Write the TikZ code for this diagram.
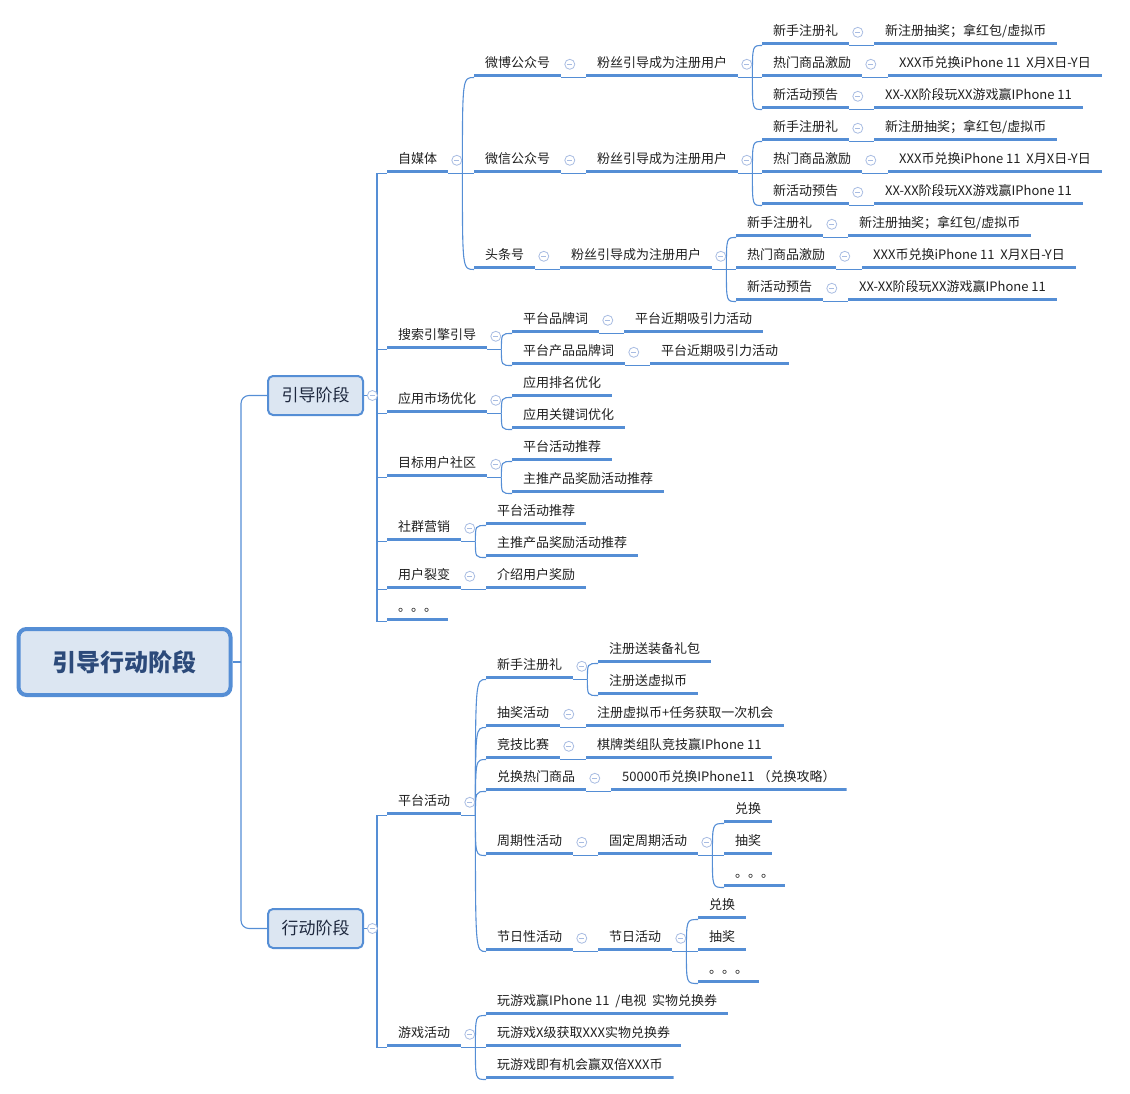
\documentclass[tikz,border=0pt]{standalone}
\usepackage{fontspec}
\setmainfont{Noto Sans CJK SC}
\usetikzlibrary{backgrounds}

\definecolor{mapblue}{RGB}{85,142,213}
\definecolor{mapfill}{RGB}{220,230,242}
\definecolor{mapfold}{RGB}{168,188,226}
\definecolor{maproot}{RGB}{44,74,122}
\definecolor{mapstage}{RGB}{30,40,62}

\tikzset{
  link/.style={draw=mapblue, line width=1.1pt},
  uline/.style={mapblue, line width=3pt},
  topic/.style={anchor=south west, yshift=-1.5pt, inner xsep=11pt, inner ysep=0pt,
    minimum height=26pt, text height=10pt, text depth=3pt,
    font=\fontsize{13}{15}\selectfont, text=black!88,
    path picture={\draw[uline] ([yshift=1.5pt]path picture bounding box.south west)
      -- ([yshift=1.5pt]path picture bounding box.south east);}},
  foldmark/.style={circle, draw=mapfold, fill=white, line width=0.8pt,
    minimum size=10pt, inner sep=0pt, label distance=3pt,
    path picture={\draw[mapfold, line width=0.8pt]
      ([xshift=-2.6pt]path picture bounding box.center)
      -- ([xshift=2.6pt]path picture bounding box.center);}},
  withfold/.style={label={[foldmark]right:{}}},
  stagebox/.style={draw=mapblue, line width=2pt, fill=mapfill, rounded corners=5pt,
    minimum width=95pt, minimum height=39pt, inner sep=0pt,
    font=\fontsize{17}{20}\selectfont, text=mapstage},
  rootbox/.style={draw=mapblue, line width=4pt, fill=mapfill, rounded corners=8pt,
    minimum width=212pt, minimum height=66pt, inner sep=0pt,
    font=\fontsize{24}{28}\selectfont\bfseries, text=maproot}
}

% parent -> children, XMind-like fork
\newcommand\forkto[2]{%
  \draw[link] (#1.south east) -- ++(14,0) coordinate (j-#1);
  \foreach \c in {#2}{\draw[link] (j-#1) .. controls (j-#1 |- \c.south west) .. (\c.south west);}}

\begin{document}
\begin{tikzpicture}[x=1pt, y=-1pt]
  \useasboundingbox (0,0) rectangle (1130,1094);

  % root and stages
  \node[rootbox] (root) at (124.5,662) {引导行动阶段};
  \node[stagebox, withfold] (yd) at (315.5,395.5) {引导阶段};
  \node[stagebox, withfold] (xd) at (315.5,928.5) {行动阶段};
  \coordinate (rj) at (241,662);
  \coordinate (ydj) at (377,395.5);
  \coordinate (xdj) at (377,928.5);

  % 引导阶段
  \node[topic, withfold] (zmt) at (387,172) {自媒体};
  \node[topic, withfold] (ssy) at (387,348) {搜索引擎引导};
  \node[topic, withfold] (yys) at (387,412) {应用市场优化};
  \node[topic, withfold] (mbs) at (387,476) {目标用户社区};
  \node[topic, withfold] (sqy) at (387,540) {社群营销};
  \node[topic, withfold] (yhl) at (387,588) {用户裂变};
  \node[topic] (ydd) at (387,620) {。。。};

  \node[topic, withfold] (wb) at (474,76) {微博公众号};
  \node[topic, withfold] (wx) at (474,172) {微信公众号};
  \node[topic, withfold] (tt) at (474,268) {头条号};
  \foreach \p/\dx/\y in {wb/0/76, wx/0/172, tt/-26/268}{
    \node[topic, withfold] (\p f) at (586+\dx,\y) {粉丝引导成为注册用户};
    \node[topic, withfold] (\p1) at (762+\dx,\y-32) {新手注册礼};
    \node[topic, withfold] (\p2) at (762+\dx,\y) {热门商品激励};
    \node[topic, withfold] (\p3) at (762+\dx,\y+32) {新活动预告};
    \node[topic] (\p1a) at (874+\dx,\y-32) {新注册抽奖；拿红包/虚拟币};
    \node[topic] (\p2a) at (888+\dx,\y) {XXX币兑换iPhone 11\ \ X月X日-Y日};
    \node[topic] (\p3a) at (874+\dx,\y+32) {XX-XX阶段玩XX游戏赢IPhone 11};
  }

  \node[topic, withfold] (ss1) at (512,332) {平台品牌词};
  \node[topic, withfold] (ss2) at (512,364) {平台产品品牌词};
  \node[topic] (ss1a) at (624,332) {平台近期吸引力活动};
  \node[topic] (ss2a) at (650,364) {平台近期吸引力活动};
  \node[topic] (yy1) at (512,396) {应用排名优化};
  \node[topic] (yy2) at (512,428) {应用关键词优化};
  \node[topic] (mb1) at (512,460) {平台活动推荐};
  \node[topic] (mb2) at (512,492) {主推产品奖励活动推荐};
  \node[topic] (sq1) at (486,524) {平台活动推荐};
  \node[topic] (sq2) at (486,556) {主推产品奖励活动推荐};
  \node[topic] (lb1) at (486,588) {介绍用户奖励};

  % 行动阶段
  \node[topic, withfold] (pt) at (387,814) {平台活动};
  \node[topic, withfold] (yx) at (387,1046) {游戏活动};

  \node[topic, withfold] (p1) at (486,678) {新手注册礼};
  \node[topic] (p1a) at (598,662) {注册送装备礼包};
  \node[topic] (p1b) at (598,694) {注册送虚拟币};
  \node[topic, withfold] (p2) at (486,726) {抽奖活动};
  \node[topic] (p2a) at (586,726) {注册虚拟币+任务获取一次机会};
  \node[topic, withfold] (p3) at (486,758) {竞技比赛};
  \node[topic] (p3a) at (586,758) {棋牌类组队竞技赢IPhone 11};
  \node[topic, withfold] (p4) at (486,790) {兑换热门商品};
  \node[topic] (p4a) at (611,790) {50000币兑换IPhone11\ （兑换攻略）};
  \node[topic, withfold] (p5) at (486,854) {周期性活动};
  \node[topic, withfold] (p5a) at (598,854) {固定周期活动};
  \node[topic] (p5a1) at (724,822) {兑换};
  \node[topic] (p5a2) at (724,854) {抽奖};
  \node[topic] (p5a3) at (724,886) {。。。};
  \node[topic, withfold] (p6) at (486,950) {节日性活动};
  \node[topic, withfold] (p6a) at (598,950) {节日活动};
  \node[topic] (p6a1) at (698,918) {兑换};
  \node[topic] (p6a2) at (698,950) {抽奖};
  \node[topic] (p6a3) at (698,982) {。。。};

  \node[topic] (yx1) at (486,1014) {玩游戏赢IPhone 11\ \ /电视\ \ 实物兑换券};
  \node[topic] (yx2) at (486,1046) {玩游戏X级获取XXX实物兑换券};
  \node[topic] (yx3) at (486,1078) {玩游戏即有机会赢双倍XXX币};

  % connectors
  \begin{pgfonlayer}{background}
    \draw[link] (root.east) -- (rj);
    \foreach \s in {yd,xd} \draw[link, rounded corners=8pt] (rj) |- (\s.west);
    \draw[link] (yd.east) -- (ydj);
    \foreach \s in {zmt,ssy,yys,mbs,sqy,yhl,ydd} \draw[link] (ydj) |- (\s.south west);
    \draw[link] (xd.east) -- (xdj);
    \foreach \s in {pt,yx} \draw[link] (xdj) |- (\s.south west);

    \forkto{zmt}{wb,wx,tt}
    \foreach \p in {wb,wx,tt}{
      \forkto{\p}{\p f}
      \forkto{\p f}{\p1,\p2,\p3}
      \forkto{\p1}{\p1a}
      \forkto{\p2}{\p2a}
      \forkto{\p3}{\p3a}
    }
    \forkto{ssy}{ss1,ss2}
    \forkto{ss1}{ss1a}
    \forkto{ss2}{ss2a}
    \forkto{yys}{yy1,yy2}
    \forkto{mbs}{mb1,mb2}
    \forkto{sqy}{sq1,sq2}
    \forkto{yhl}{lb1}

    \forkto{pt}{p1,p2,p3,p4,p5,p6}
    \forkto{p1}{p1a,p1b}
    \foreach \q in {p2,p3,p4,p5,p6}{\forkto{\q}{\q a}}
    \forkto{p5a}{p5a1,p5a2,p5a3}
    \forkto{p6a}{p6a1,p6a2,p6a3}
    \forkto{yx}{yx1,yx2,yx3}
  \end{pgfonlayer}
\end{tikzpicture}
\end{document}
